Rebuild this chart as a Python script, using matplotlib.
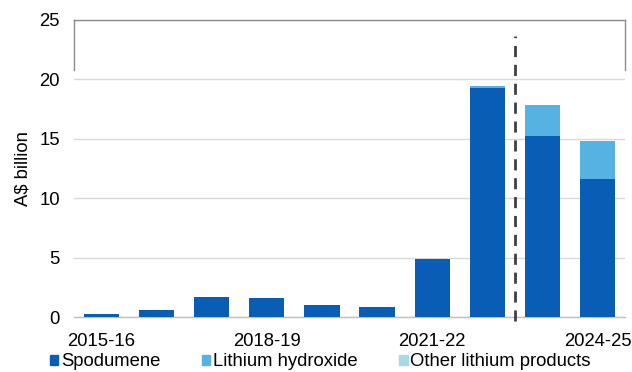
import matplotlib
matplotlib.use("Agg")
import matplotlib.pyplot as plt
from matplotlib.patches import Patch

plt.rcParams["font.family"] = ["Liberation Sans", "DejaVu Sans"]

years = ["2015-16", "2016-17", "2017-18", "2018-19", "2019-20",
         "2020-21", "2021-22", "2022-23", "2023-24", "2024-25"]
spodumene = [0.25, 0.59, 1.68, 1.60, 1.00, 0.89, 4.90, 19.30, 15.25, 11.60]
lithium_hydroxide = [0.0, 0.0, 0.0, 0.0, 0.0, 0.0, 0.0, 0.17, 2.60, 3.25]
other_lithium = [0.0, 0.0, 0.0, 0.0, 0.0, 0.0, 0.0, 0.0, 0.0, 0.0]
shown_labels = ["2015-16", "2018-19", "2021-22", "2024-25"]
series_names = ["Spodumene", "Lithium hydroxide", "Other lithium products"]

c_spod = "#0A5DB5"
c_hyd = "#55B2E2"
c_oth = "#A5DBE3"

fig = plt.figure(figsize=(6.32, 3.72), dpi=100)
ax = fig.add_axes([0.117, 0.147, 0.872, 0.800])

x = range(len(years))
w = 0.64
ax.bar(x, spodumene, width=w, color=c_spod, zorder=3)
ax.bar(x, lithium_hydroxide, width=w, bottom=spodumene, color=c_hyd, zorder=3)
bottom3 = [a + b for a, b in zip(spodumene, lithium_hydroxide)]
ax.bar(x, other_lithium, width=w, bottom=bottom3, color=c_oth, zorder=3)

ax.set_xlim(-0.5, len(years) - 0.5)
ax.set_ylim(0, 25)
ax.set_yticks([0, 5, 10, 15, 20, 25])
ax.yaxis.grid(True, color="#D9D9D9", linewidth=1.0, zorder=0)
ax.set_xticks(list(x))
ax.set_xticklabels([y if y in shown_labels else "" for y in years])
ax.tick_params(axis="both", length=0, labelsize=13.3, colors="#000000")
ax.tick_params(axis="y", pad=10)
ax.tick_params(axis="x", pad=11)

for s in ["left", "right", "top"]:
    ax.spines[s].set_visible(False)
ax.spines["bottom"].set_color("#BFBFBF")
ax.spines["bottom"].set_linewidth(1.0)

# frame segment around the top band
frame_kw = dict(color="#8C8C8C", lw=1.0, clip_on=False, zorder=4)
ax.plot([-0.5, 9.5], [25, 25], **frame_kw)
ax.plot([-0.5, -0.5], [20.8, 25], **frame_kw)
ax.plot([9.5, 9.5], [20.8, 25], **frame_kw)

# forecast divider
ax.plot([7.5, 7.5], [-0.3, 23.6], color="#404040", lw=2.0,
        linestyle=(0, (4, 2.8)), clip_on=False, zorder=5)

ax.set_ylabel("A$ billion", fontsize=13.3, labelpad=6)

handles = [Patch(color=c_spod), Patch(color=c_hyd), Patch(color=c_oth)]
fig.legend(handles, series_names, loc="center left",
           bbox_to_anchor=(0.079, 0.027), ncol=3, frameon=False,
           fontsize=13.3, handlelength=0.45, handleheight=0.45,
           handletextpad=0.15, columnspacing=2.25, borderaxespad=0,
           borderpad=0)

fig.savefig("out.png", dpi=100)
